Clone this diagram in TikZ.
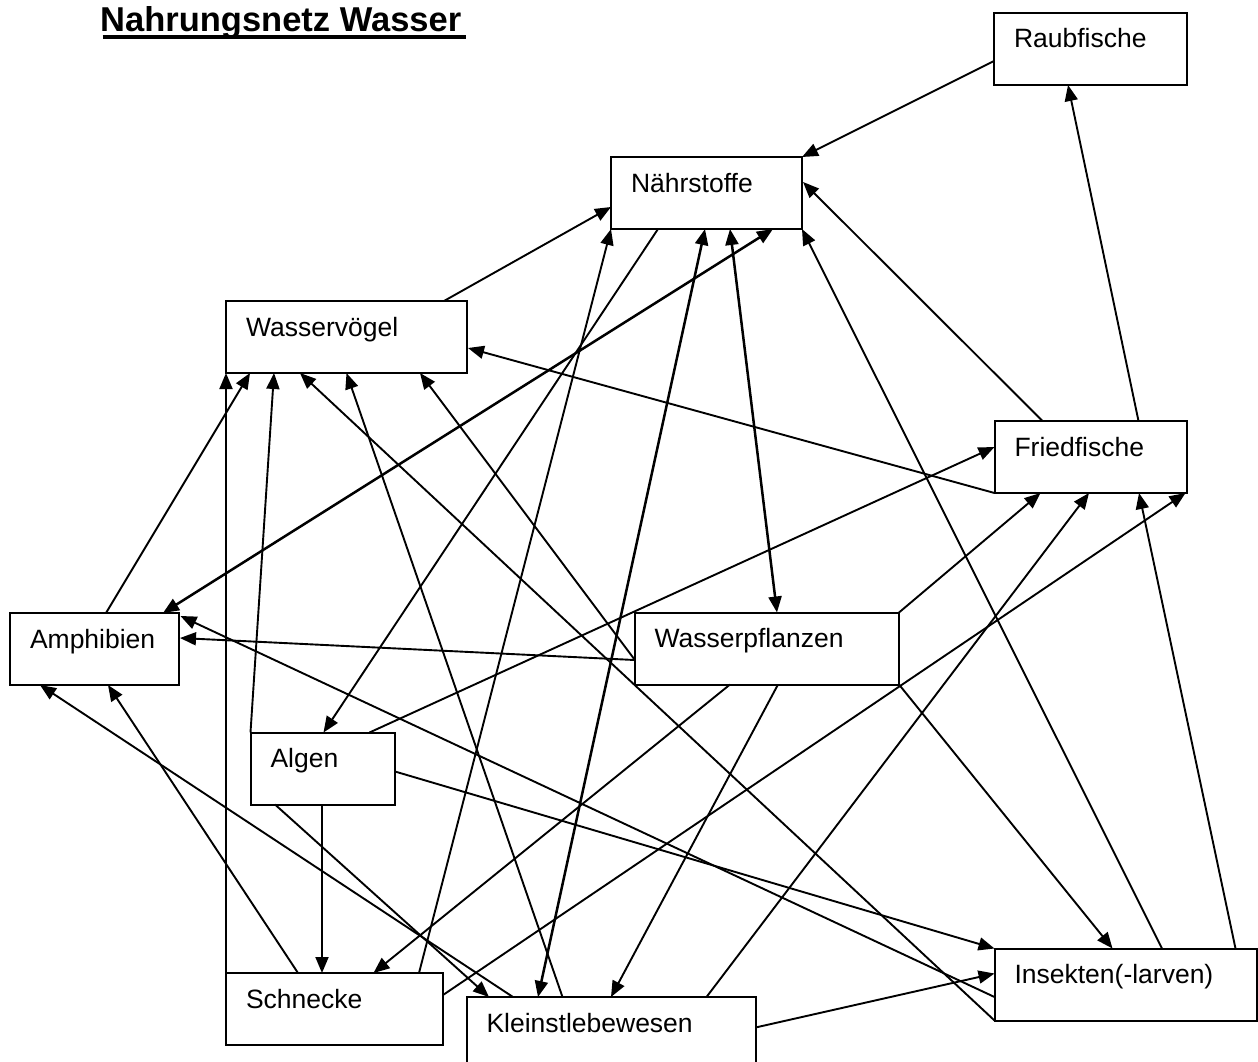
\documentclass[tikz,border=0pt]{standalone}
\usepackage{fontspec}
\setmainfont{Liberation Sans}
\usetikzlibrary{arrows.meta,calc}
\hyphenpenalty=10000
\exhyphenpenalty=10000
\begin{document}
\begin{tikzpicture}[x=1pt,y=-1pt,
  box/.style={draw, line width=2pt, rectangle, anchor=north west, outer sep=0pt,
    inner xsep=20pt, inner ysep=0pt, text height=35pt, text depth=37pt, align=left,
    font=\fontsize{26.5}{30}\selectfont},
  lnk/.style={line width=1.9pt, -{Triangle[length=16pt,width=13pt]}},
  lnkboth/.style={line width=2.5pt, {Triangle[length=16pt,width=13pt]}-{Triangle[length=16pt,width=13pt]}}
]
\useasboundingbox (0,0) rectangle (1258,1062);
\clip (0,0) rectangle (1258,1062);

% title
\node[anchor=base west, inner sep=0pt, font=\fontsize{34.5}{40}\selectfont\bfseries] (title) at (100,31.7) {Nahrungsnetz Wasser};
\draw[line width=4pt] ($(title.base west)+(2.5,5)$) -- ($(title.base east)+(4.5,5)$);

% boxes
\node[box, text width=153pt]   (rf)  at (994,13)      {Raubfische};
\node[box, text width=151pt]   (ns)  at (611,157)     {Nährstoffe};
\node[box, text width=201pt]   (wv)  at (226,301)     {Wasservögel};
\node[box, text width=152.5pt] (ff)  at (994.5,421)   {Friedfische};
\node[box, text width=128.5pt] (am)  at (10,613)      {Amphibien};
\node[box, text width=224.5pt] (wp)  at (634.5,612.5) {Wasserpflanzen};
\node[box, text width=104.5pt] (al)  at (250.5,732.5) {Algen};
\node[box, text width=177pt]   (sc)  at (226,973)     {Schnecke};
\node[box, text width=249pt]   (kl)  at (466.5,997)   {Kleinstlebewesen};
\node[box, text width=222pt]   (ins) at (994.5,948.5) {Insekten(-larven)};

% connectors
\draw[lnk] ($(rf.north west)+(0,48)$) -- (ns.north east);
\draw[lnk] ($(ff.north west)+(144,0)$) -- ($(rf.south west)+(74,0)$);
\draw[lnk] ($(ff.north west)+(48,0)$) -- ($(ns.north east)+(1,25)$);
\draw[lnk] (ff.south west) -- ($(wv.north east)+(1,47)$);
\draw[lnk] ($(wv.north west)+(218,0)$) -- ($(ns.north west)+(0,50)$);
\draw[lnk] ($(ns.south west)+(47,0)$) -- ($(al.north west)+(73,0)$);
\draw[lnkboth] ($(ns.south west)+(119,0)$) -- ($(wp.north west)+(142.5,0)$);
\draw[lnkboth] ($(ns.south west)+(94,0)$) -- ($(kl.north west)+(71.5,0)$);
\draw[lnkboth] ($(ns.south west)+(162,0)$) -- ($(am.north west)+(153,0)$);
\draw[lnk] ($(sc.north west)+(193,0)$) -- (ns.south west);
\draw[lnk] ($(ins.north west)+(167.5,0)$) -- (ns.south east);
\draw[lnk] (sc.north west) -- (wv.south west);
\draw[lnk] ($(am.north west)+(96,0)$) -- ($(wv.south west)+(24,0)$);
\draw[lnk] (al.north west) -- ($(wv.south west)+(48,0)$);
\draw[lnk] (ins.south west) -- ($(wv.south west)+(74,0)$);
\draw[lnk] ($(kl.north west)+(96,0)$) -- ($(wv.south west)+(120.5,0)$);
\draw[lnk] ($(wp.north west)+(0,47)$) -- ($(wv.south west)+(194,0)$);
\draw[lnk] ($(wp.north west)+(0,47.5)$) -- ($(am.north east)+(1.5,25)$);
\draw[lnk] ($(ins.north west)+(0,48.5)$) -- ($(am.north east)+(2,3)$);
\draw[lnk] ($(sc.north west)+(72,0)$) -- ($(am.south west)+(98,0)$);
\draw[lnk] ($(kl.north west)+(46.5,0)$) -- ($(am.south west)+(30,0)$);
\draw[lnk] ($(al.north west)+(119,0)$) -- ($(ff.north west)+(0,26)$);
\draw[lnk] ($(al.north east)+(0,39)$) -- (ins.north west);
\draw[lnk] ($(al.south west)+(71.5,0)$) -- ($(sc.north west)+(96,0)$);
\draw[lnk] ($(al.south west)+(24.5,0)$) -- ($(kl.north west)+(22.5,0)$);
\draw[lnk] (wp.north east) -- ($(ff.south west)+(46,0)$);
\draw[lnk] ($(wp.south west)+(95.5,0)$) -- ($(sc.north west)+(147.5,0)$);
\draw[lnk] ($(wp.south west)+(143.5,0)$) -- ($(kl.north west)+(144.5,0)$);
\draw[lnk] (wp.south east) -- ($(ins.north west)+(118,0)$);
\draw[lnk] ($(kl.north west)+(240,0)$) -- ($(ff.south west)+(94.5,0)$);
\draw[lnk] ($(ins.north west)+(241,0)$) -- ($(ff.south west)+(144.5,0)$);
\draw[lnk] ($(sc.north east)+(0,22)$) -- ($(ff.south east)+(-1.5,0)$);
\draw[lnk] ($(kl.north east)+(0,30.5)$) -- ($(ins.north west)+(0,25)$);
\end{tikzpicture}
\end{document}
